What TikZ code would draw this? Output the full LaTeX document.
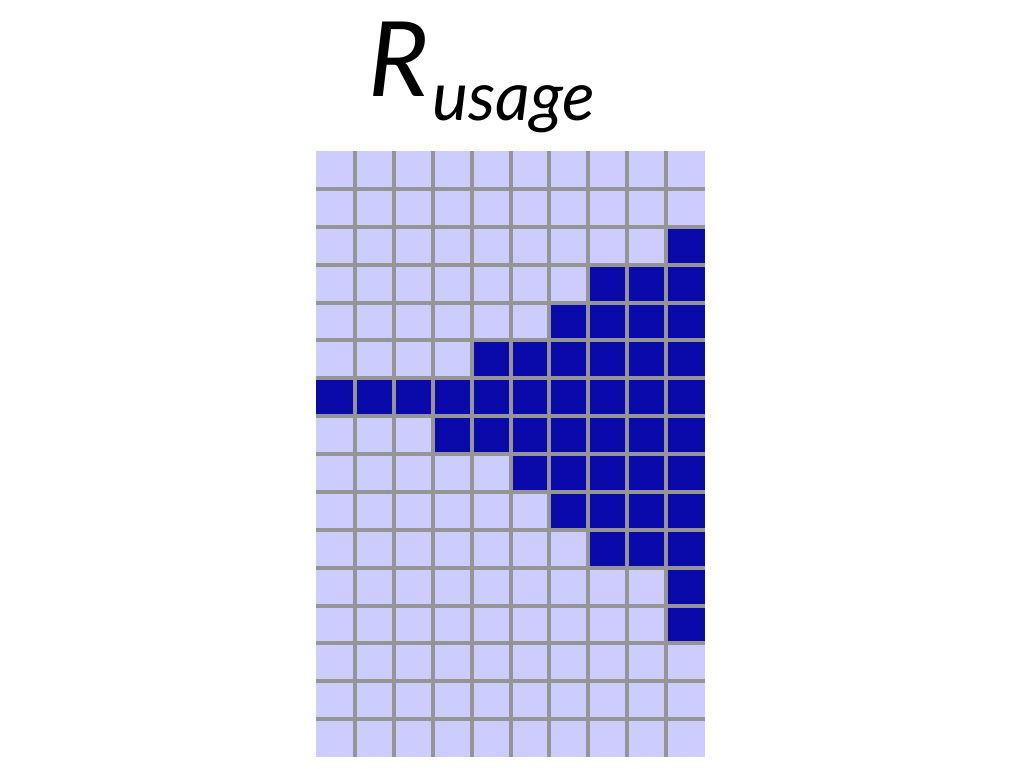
\documentclass[tikz,border=0pt]{standalone}
\usepackage{fontspec}
\newfontfamily\lbl{Lato}
\definecolor{lightcell}{HTML}{CCCCFF}
\definecolor{darkcell}{HTML}{0A0AAA}
\definecolor{gridgray}{HTML}{959595}
\tikzset{
  gridline/.style={draw=gridgray, line width=4pt},
  darkbox/.style={fill=darkcell, draw=none},
}
\begin{document}
\begin{tikzpicture}[x=1pt,y=-1pt]
\useasboundingbox (0,0) rectangle (1024,768);
\def\gx{316}\def\gy{151}\def\cw{38.9}\def\ch{37.875}
\fill[lightcell] (\gx,\gy) rectangle (705,757);
% dark cells: row/col list
\foreach \r/\c in {2/9,
  3/7,3/8,3/9,
  4/6,4/7,4/8,4/9,
  5/4,5/5,5/6,5/7,5/8,5/9,
  6/0,6/1,6/2,6/3,6/4,6/5,6/6,6/7,6/8,6/9,
  7/3,7/4,7/5,7/6,7/7,7/8,7/9,
  8/5,8/6,8/7,8/8,8/9,
  9/6,9/7,9/8,9/9,
  10/7,10/8,10/9,
  11/9,12/9}{
  \fill[darkbox] ({\gx+\c*\cw},{\gy+\r*\ch}) rectangle ({\gx+(\c+1)*\cw},{\gy+(\r+1)*\ch});
}
\foreach \i in {1,...,9}{
  \draw[gridline] ({\gx+\i*\cw},\gy) -- ({\gx+\i*\cw},757);
}
\foreach \j in {1,...,15}{
  \draw[gridline] (\gx,{\gy+\j*\ch}) -- (705,{\gy+\j*\ch});
}
\node[anchor=base west, inner sep=0pt] (R) at (368,96) {\lbl\itshape\fontsize{104}{104}\selectfont R};
\node[anchor=base west, inner sep=0pt] (sub) at (432,120) {\lbl\itshape\fontsize{68}{68}\selectfont usage};
\end{tikzpicture}
\end{document}
